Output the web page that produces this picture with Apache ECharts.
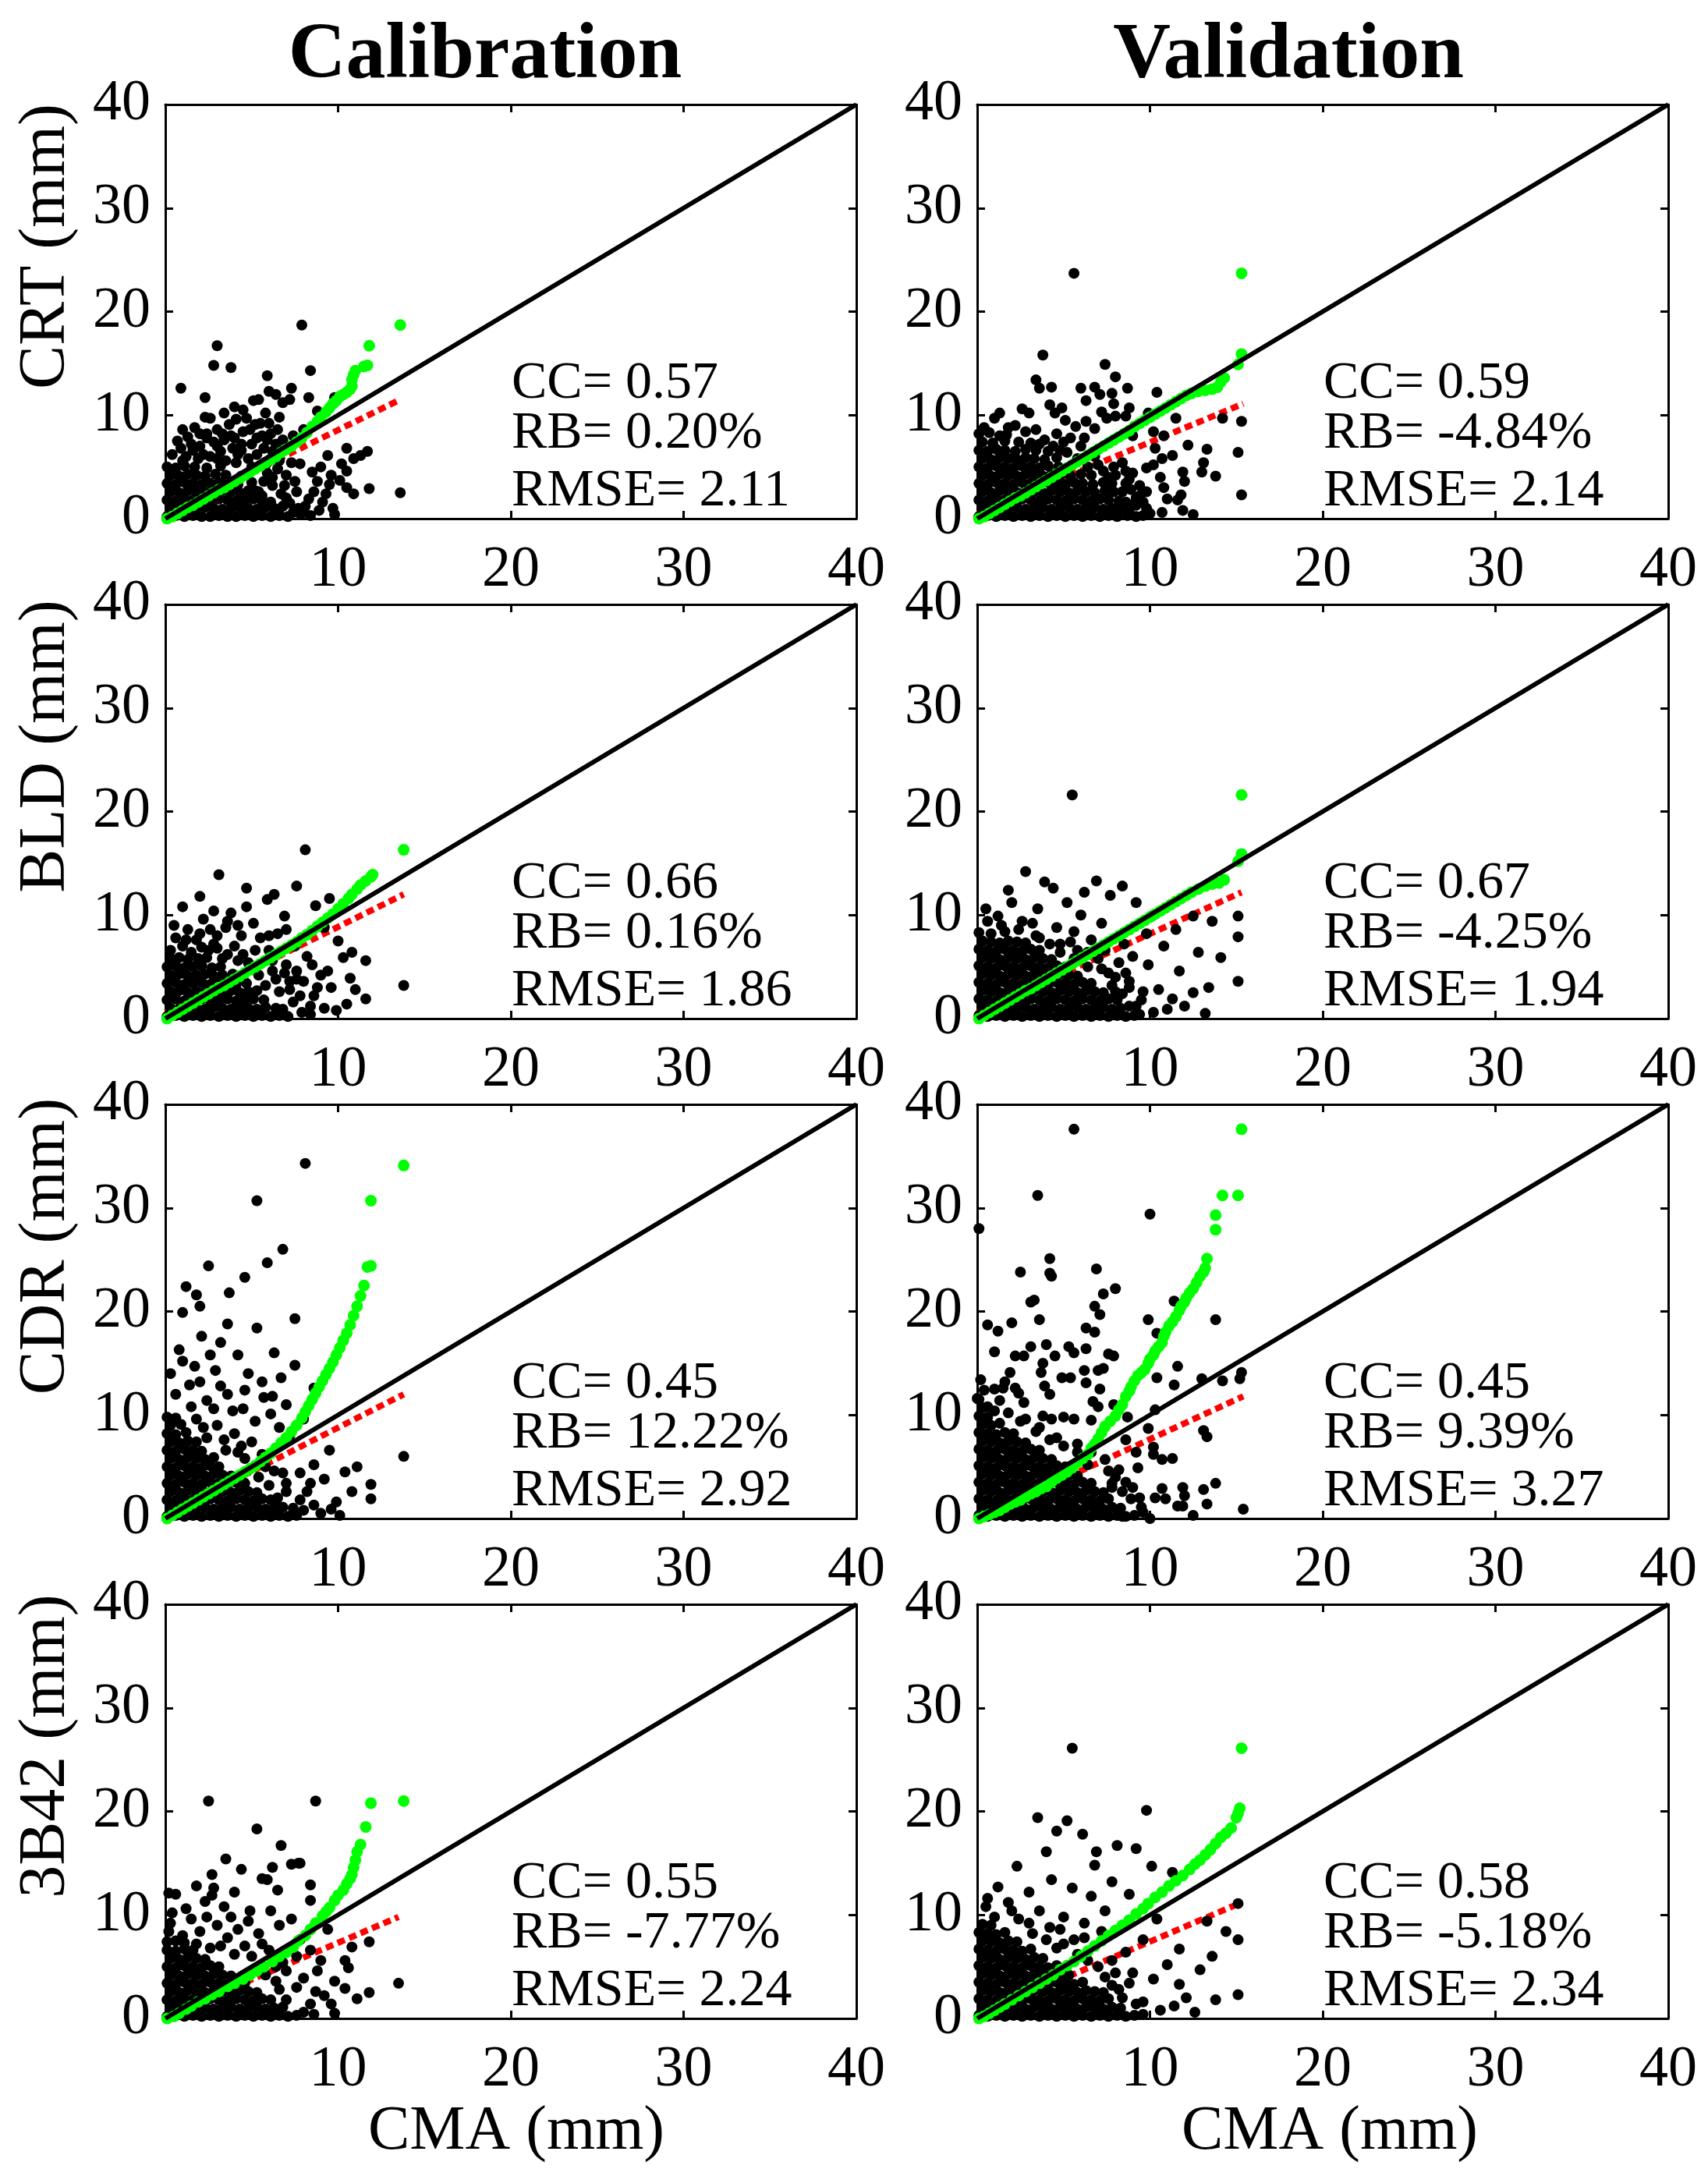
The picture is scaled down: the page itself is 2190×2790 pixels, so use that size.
<!DOCTYPE html>
<html>
<head>
<meta charset="utf-8">
<script src="https://cdn.jsdelivr.net/npm/echarts@6/dist/echarts.min.js"></script>
<style>
html,body{margin:0;padding:0;background:#fff;}
#chart{width:2190px;height:2790px;}
</style>
</head>
<body>
<div id="chart"></div>
<script>
// ---------- categories / labels ----------
const products = ['CRT', 'BLD', 'CDR', '3B42'];
const periods = ['Calibration', 'Validation'];
const xAxisName = 'CMA (mm)';
const axisTicks = [0, 10, 20, 30, 40];

// ---------- statistics ----------
const ccCal = ['0.57', '0.66', '0.45', '0.55'];
const ccVal = ['0.59', '0.67', '0.45', '0.58'];
const rbCal = ['0.20%', '0.16%', '12.22%', '-7.77%'];
const rbVal = ['-4.84%', '-4.25%', '9.39%', '-5.18%'];
const rmseCal = ['2.11', '1.86', '2.92', '2.24'];
const rmseVal = ['2.14', '1.94', '3.27', '2.34'];

// ---------- 1:1 line ----------
const oneToOne = [[0, 0], [40, 40]];

// ---------- regression (red) lines ----------
const redCRTcal = [[0, 0.4], [13.6, 11.5]];
const redCRTval = [[0, 0.5], [15.4, 11.1]];
const redBLDcal = [[0, 0.6], [13.8, 12.0]];
const redBLDval = [[0, 0.6], [15.3, 12.2]];
const redCDRcal = [[0, 0.3], [13.8, 12.0]];
const redCDRval = [[0, 0.0], [15.4, 11.8]];
const red3B42cal = [[0, 0.2], [13.5, 9.8]];
const red3B42val = [[0, 0.3], [15.3, 11.2]];

// ---------- Q-Q (green) points ----------
const greenCRTcal = [[0.1,0.0],[0.4,0.2],[0.7,0.5],[1.0,0.8],[1.3,1.1],[1.6,1.3],[1.9,1.6],[2.2,1.9],[2.5,2.2],[2.8,2.5],[3.1,2.8],[3.4,3.0],[3.7,3.3],[4.0,3.6],[4.3,3.9],[4.6,4.2],[4.9,4.5],[5.2,4.8],[5.5,5.1],[5.8,5.4],[6.1,5.7],[6.4,6.0],[6.7,6.4],[7.0,6.7],[7.3,7.0],[7.6,7.4],[7.9,7.8],[8.2,8.3],[8.5,8.9],[8.8,9.4],[9.0,9.8],[9.3,10.3],[9.5,10.7],[9.7,11.1],[9.9,11.4],[10.1,11.8],[10.3,12.0],[10.5,12.2],[10.7,12.5],[10.8,12.8],[10.8,13.4],[10.9,13.9],[11.0,14.3],[11.5,14.7],[11.7,14.8],[11.8,16.7],[13.6,18.7]];
const greenCRTval = [[0.1,0.0],[0.4,0.2],[0.7,0.5],[1.0,0.8],[1.3,1.1],[1.6,1.4],[1.9,1.7],[2.2,2.0],[2.5,2.2],[2.8,2.5],[3.1,2.8],[3.4,3.1],[3.7,3.4],[4.0,3.7],[4.3,4.0],[4.6,4.3],[4.9,4.6],[5.2,4.9],[5.5,5.2],[5.8,5.5],[6.1,5.8],[6.4,6.1],[6.7,6.4],[7.0,6.7],[7.3,7.0],[7.6,7.3],[7.9,7.6],[8.2,7.9],[8.5,8.2],[8.8,8.5],[9.1,8.9],[9.4,9.2],[9.7,9.5],[10.0,9.8],[10.3,10.1],[10.6,10.4],[10.9,10.7],[11.2,11.0],[11.5,11.3],[11.8,11.6],[12.1,11.9],[12.4,12.1],[12.8,12.3],[13.2,12.4],[13.6,12.5],[13.9,12.7],[14.1,13.2],[14.3,13.6],[15.1,14.9],[15.3,15.9],[15.3,23.7]];
const greenBLDcal = [[0.1,0.0],[0.4,0.3],[0.7,0.6],[1.0,0.9],[1.3,1.2],[1.6,1.5],[1.9,1.8],[2.2,2.1],[2.5,2.4],[2.8,2.7],[3.1,3.0],[3.4,3.2],[3.7,3.5],[4.0,3.8],[4.3,4.1],[4.6,4.4],[4.9,4.7],[5.2,5.0],[5.5,5.3],[5.8,5.6],[6.1,5.9],[6.4,6.2],[6.7,6.5],[7.0,6.8],[7.3,7.1],[7.6,7.4],[7.9,7.8],[8.2,8.1],[8.5,8.5],[8.8,8.9],[9.1,9.3],[9.4,9.7],[9.7,10.1],[10.0,10.6],[10.3,11.1],[10.6,11.6],[10.8,12.0],[11.1,12.5],[11.3,12.9],[11.6,13.3],[11.9,13.7],[12.0,13.9],[13.8,16.3]];
const greenBLDval = [[0.1,0.0],[0.4,0.3],[0.7,0.6],[1.0,0.9],[1.3,1.2],[1.6,1.5],[1.9,1.8],[2.2,2.1],[2.5,2.4],[2.8,2.7],[3.1,2.9],[3.4,3.2],[3.7,3.5],[4.0,3.8],[4.3,4.1],[4.6,4.4],[4.9,4.7],[5.2,5.0],[5.5,5.3],[5.8,5.6],[6.1,5.9],[6.4,6.2],[6.7,6.5],[7.0,6.8],[7.3,7.1],[7.6,7.4],[7.9,7.7],[8.2,8.0],[8.5,8.3],[8.8,8.6],[9.1,8.9],[9.4,9.2],[9.7,9.5],[10.0,9.8],[10.3,10.1],[10.6,10.4],[10.9,10.7],[11.2,11.0],[11.5,11.3],[11.8,11.6],[12.1,11.9],[12.4,12.2],[12.8,12.5],[13.2,12.8],[13.6,13.0],[14.0,13.1],[14.3,13.4],[15.1,15.2],[15.3,15.9],[15.3,21.6]];
const greenCDRcal = [[0.1,0.0],[0.4,0.3],[0.7,0.6],[1.0,0.9],[1.3,1.2],[1.6,1.5],[1.9,1.8],[2.2,2.1],[2.5,2.4],[2.8,2.7],[3.1,3.0],[3.4,3.3],[3.7,3.6],[4.0,3.9],[4.3,4.2],[4.6,4.5],[4.9,4.8],[5.2,5.1],[5.5,5.5],[5.8,5.9],[6.1,6.3],[6.4,6.8],[6.7,7.3],[7.0,7.8],[7.3,8.4],[7.6,9.0],[7.9,9.7],[8.1,10.3],[8.3,10.9],[8.5,11.5],[8.7,12.1],[8.9,12.7],[9.1,13.3],[9.3,13.9],[9.5,14.5],[9.7,15.1],[9.9,15.8],[10.1,16.5],[10.3,17.2],[10.5,17.9],[10.7,18.7],[10.9,19.6],[11.1,20.5],[11.3,21.5],[11.5,22.5],[11.7,24.3],[11.9,24.4],[11.9,30.7],[13.8,34.1]];
const greenCDRval = [[0.1,0.0],[0.4,0.2],[0.7,0.4],[1.0,0.6],[1.3,0.8],[1.6,1.1],[1.9,1.4],[2.2,1.6],[2.5,1.8],[2.8,2.1],[3.1,2.4],[3.4,2.6],[3.7,2.9],[4.0,3.1],[4.3,3.5],[4.6,3.9],[4.9,4.2],[5.2,4.5],[5.5,4.9],[5.8,5.4],[6.1,5.8],[6.4,6.2],[6.6,6.8],[6.8,7.2],[7.0,7.7],[7.2,8.3],[7.4,8.9],[7.7,9.4],[8.0,9.9],[8.2,10.5],[8.4,11.0],[8.6,11.8],[8.8,12.3],[8.9,12.7],[9.1,13.3],[9.3,13.8],[9.5,14.1],[9.7,14.4],[9.9,15.0],[10.0,15.4],[10.2,15.8],[10.3,16.2],[10.5,16.6],[10.7,17.0],[10.8,17.6],[10.9,18.0],[11.1,18.6],[11.3,19.0],[11.5,19.5],[11.7,20.1],[11.8,20.5],[12.0,20.9],[12.1,21.3],[12.3,21.8],[12.5,22.2],[12.7,22.8],[12.9,23.4],[13.1,23.8],[13.2,24.2],[13.3,25.1],[13.8,27.9],[13.8,29.3],[14.2,31.2],[15.1,31.2],[15.3,37.6]];
const green3B42cal = [[0.1,0.0],[0.5,0.2],[0.8,0.5],[1.2,0.9],[1.5,1.2],[1.9,1.6],[2.3,1.9],[2.7,2.3],[3.1,2.6],[3.6,3.1],[4.0,3.4],[4.5,3.8],[4.9,4.2],[5.3,4.6],[5.7,5.0],[6.2,5.5],[6.6,6.0],[7.0,6.4],[7.4,6.9],[7.7,7.5],[8.1,8.0],[8.4,8.6],[8.7,9.2],[9.1,9.9],[9.3,10.3],[9.5,10.7],[9.8,11.4],[10.0,11.9],[10.3,12.4],[10.5,13.0],[10.7,13.5],[10.8,13.9],[10.9,14.6],[11.0,15.3],[11.1,16.1],[11.3,16.8],[11.6,18.5],[11.9,20.8],[13.8,21.0]];
const green3B42val = [[0.1,0.0],[0.4,0.2],[0.7,0.5],[1.0,0.8],[1.3,1.1],[1.6,1.4],[2.0,1.8],[2.4,2.2],[2.8,2.6],[3.2,3.0],[3.6,3.4],[4.0,3.8],[4.4,4.2],[4.8,4.7],[5.2,5.1],[5.6,5.5],[6.0,6.0],[6.4,6.5],[6.8,7.0],[7.2,7.5],[7.6,8.0],[8.0,8.5],[8.4,9.0],[8.8,9.5],[9.2,10.1],[9.6,10.6],[9.9,11.1],[10.3,11.7],[10.7,12.2],[11.1,12.8],[11.5,13.3],[11.9,13.8],[12.3,14.4],[12.6,14.9],[12.9,15.3],[13.2,15.8],[13.5,16.3],[13.8,16.9],[14.1,17.5],[14.4,17.9],[14.7,18.4],[15.0,19.4],[15.1,19.8],[15.2,20.3],[15.3,26.1]];

// ---------- scatter (black) points: [CMA, product] ----------
const blackCRTcal = [
[0.1,0.2],[0.6,0.3],[1.1,0.2],[1.6,0.3],[2.1,0.2],[2.6,0.2],[3.1,0.3],[3.6,0.2],[4.1,0.2],[4.6,0.3],[5.1,0.2],[5.6,0.3],[6.1,0.2],[6.6,0.3],[7.1,0.2],
[0.3,1.0],[0.8,1.1],[1.3,0.9],[1.8,1.0],[2.3,1.1],[2.8,1.0],[3.3,0.9],[3.8,1.0],[4.3,1.1],[4.8,1.0],[5.3,0.9],[5.8,1.1],[6.3,1.0],
[0.1,1.8],[0.6,1.7],[1.1,1.9],[1.6,1.8],[2.1,1.7],[2.6,1.8],[3.1,1.9],[3.6,1.8],[4.1,1.7],[4.6,1.8],[5.1,1.9],[5.6,1.7],
[0.3,2.6],[0.8,2.5],[1.3,2.7],[1.8,2.6],[2.3,2.5],[2.8,2.6],[3.3,2.7],[3.8,2.6],[4.3,2.5],[4.8,2.7],[5.4,2.6],
[0.1,3.4],[0.6,3.3],[1.1,3.5],[1.6,3.4],[2.1,3.3],[2.6,3.4],[3.1,3.5],[3.6,3.4],[4.2,3.3],[5.0,3.5],
[0.3,4.2],[0.8,4.1],[1.3,4.3],[1.8,4.2],[2.3,4.1],[2.9,4.3],[3.5,4.2],[4.4,4.1],
[0.1,5.0],[0.6,4.9],[1.1,5.1],[1.7,5.0],[2.4,4.9],[3.2,5.1],
[0.7,7.5],[1.3,7.9],[1.7,8.8],[2.3,9.8],[2.6,9.7],[2.0,7.0],[2.8,7.4],[3.2,6.5],[3.7,9.1],[4.0,7.8],[4.5,8.4],[4.7,9.7],[4.2,6.2],[5.2,9.1],[5.5,9.2],[5.0,7.2],[5.7,6.8],[6.5,8.6],[6.1,8.2],[6.2,6.5],[6.8,7.6],[7.2,7.0],[8.0,8.6],[1.2,6.0],[1.9,5.8],[2.6,6.0],[3.5,5.6],[4.8,5.8],[5.8,5.2],[6.6,5.6],[7.0,4.2],[7.5,3.6],[6.7,2.4],[6.1,1.6],[6.6,0.4],[5.6,2.2],[5.2,2.7],[6.2,3.2],[7.2,1.5],[7.8,0.5],[7.6,2.6],[8.4,0.3],
[0.4,6.2],[0.9,6.8],[1.6,6.6],[2.4,8.2],[3.0,8.6],[3.4,7.6],[3.9,6.8],[4.4,7.2],[5.3,6.2],[5.6,8.0],[4.1,5.4],[3.0,5.8],[5.9,4.4],[6.5,4.8],[5.7,3.6],[6.9,3.2],[7.3,5.4],
[1.0,5.6],[1.5,7.2],[2.2,6.2],[2.4,7.8],[3.0,7.0],[3.3,8.2],[3.8,8.0],[4.1,9.6],[4.4,6.6],[4.9,8.6],[5.3,7.8],[5.9,7.6],[6.0,9.2],[6.4,7.2],[6.9,6.6],[7.4,8.0],[3.4,10.2],[4.0,10.8],[2.0,8.2],[1.0,8.6],[6.6,9.8],[5.0,5.0],[6.2,4.0],[6.8,1.2],[7.4,0.6],[7.0,2.0],[8.1,1.2],[8.6,2.6],[8.9,0.8],[9.3,2.4],
[7.9,18.7],[3.0,16.7],[2.8,14.8],[3.8,14.6],[5.9,13.8],[8.4,14.3],[0.9,12.6],[2.3,11.7],[6.0,12.3],[6.4,12.0],[7.3,12.6],[6.8,11.2],[7.2,11.5],[8.3,11.7],[9.8,11.7],[8.8,10.4],[5.1,11.4],[5.4,11.5],[4.5,10.5],[5.8,10.2],[9.4,6.1],[10.5,6.8],[11.7,6.5],[11.3,6.1],[10.9,5.8],[10.2,5.3],[9.0,5.0],[9.6,4.2],[10.5,4.6],[10.1,3.7],[9.5,3.3],[10.5,3.0],[11.8,2.9],[10.9,2.4],[13.6,2.5],[9.7,1.0],[9.8,0.4],[9.1,1.6],[8.3,1.9],[7.7,1.0],[8.0,0.6],[8.8,3.6],[8.5,4.5],[7.8,5.3]
];
const blackCRTval = [
[0.1,0.2],[0.6,0.3],[1.1,0.2],[1.6,0.3],[2.1,0.2],[2.6,0.3],[3.1,0.2],[3.6,0.3],[4.1,0.2],[4.6,0.3],[5.1,0.2],[5.6,0.3],[6.1,0.2],[6.6,0.3],[7.1,0.2],[7.6,0.3],[8.1,0.2],[8.7,0.3],[9.2,0.2],
[0.3,1.0],[0.8,1.1],[1.3,0.9],[1.8,1.0],[2.3,1.1],[2.8,0.9],[3.3,1.0],[3.8,1.1],[4.3,0.9],[4.8,1.0],[5.3,1.1],[5.8,0.9],[6.3,1.0],[6.8,1.1],[7.3,0.9],[7.8,1.0],[8.4,1.1],[9.0,1.3],
[0.1,1.8],[0.6,1.7],[1.1,1.9],[1.6,1.8],[2.1,1.7],[2.6,1.9],[3.1,1.8],[3.6,1.7],[4.1,1.9],[4.6,1.8],[5.1,1.7],[5.6,1.9],[6.1,1.8],[6.6,1.7],[7.1,1.9],[7.6,1.8],[8.2,1.7],
[0.3,2.6],[0.8,2.5],[1.3,2.7],[1.8,2.6],[2.3,2.5],[2.8,2.7],[3.3,2.6],[3.8,2.5],[4.3,2.7],[4.8,2.6],[5.3,2.5],[5.8,2.7],[6.3,2.6],[6.8,2.5],[7.4,2.7],[7.9,2.6],
[0.1,3.4],[0.6,3.3],[1.1,3.5],[1.6,3.4],[2.1,3.3],[2.6,3.5],[3.1,3.4],[3.6,3.3],[4.1,3.5],[4.6,3.4],[5.1,3.3],[5.6,3.5],[6.1,3.4],[6.7,3.3],[7.3,3.5],
[0.3,4.2],[0.8,4.1],[1.3,4.3],[1.8,4.2],[2.3,4.1],[2.8,4.3],[3.3,4.2],[3.8,4.1],[4.3,4.3],[4.8,4.2],[5.4,4.1],[6.0,4.3],[6.6,4.2],[7.3,4.6],
[0.1,5.0],[0.6,4.9],[1.1,5.1],[1.6,5.0],[2.1,4.9],[2.6,5.1],[3.1,5.0],[3.6,4.9],[4.1,5.1],[4.7,5.0],[5.3,4.9],
[0.3,5.8],[0.8,5.7],[1.3,5.9],[1.8,5.8],[2.3,5.7],[2.8,5.9],[3.3,5.8],[3.9,5.7],[4.6,5.9],
[0.1,6.6],[0.6,6.5],[1.1,6.7],[1.6,6.6],[2.2,6.5],[2.8,6.7],[3.4,6.6],[4.1,6.5],
[0.3,7.4],[0.9,7.3],[1.6,7.5],[2.4,7.4],[3.1,7.3],[3.9,7.6],
[0.1,8.2],[0.7,8.3],[1.7,8.1],[2.8,8.4],
[7.8,3.4],[8.4,2.6],[8.8,3.8],[9.2,2.0],[8.0,4.2],[7.6,4.0],[8.6,4.6],[9.4,3.2],[9.6,1.6],[8.9,2.8],[9.8,1.0],[8.2,0.8],[9.6,0.3],[7.0,5.2],[6.4,5.0],[5.8,5.8],[5.2,6.4],[4.4,7.0],[3.6,7.2],[4.6,8.2],[3.4,8.6],[2.2,9.0],[1.8,8.8],[5.4,7.8],[6.2,7.8],
[5.6,23.7],[3.8,15.8],[7.4,14.9],[8.0,13.7],[3.4,13.4],[3.6,12.6],[4.3,12.7],[6.0,12.6],[6.8,12.7],[7.1,12.0],[7.8,12.1],[8.7,12.6],[10.4,12.2],[6.3,11.4],[7.9,11.1],[4.2,11.0],[2.6,10.6],[4.9,10.7],[1.3,10.2],[1.0,9.7],[3.0,10.2],[4.5,10.2],[7.2,10.3],[8.0,9.9],[8.6,9.9],[8.8,10.7],[5.1,9.5],[6.3,9.4],[7.5,9.7],[9.9,10.2],[11.5,9.7],[14.2,9.7],[15.3,9.4],[0.4,8.8],[1.3,8.0],[5.7,8.9],[6.8,8.7],[9.0,8.0],[10.2,8.4],[10.8,8.0],[12.2,7.1],[13.3,6.7],[15.1,6.4],[10.3,6.8],[11.3,6.1],[10.7,5.8],[13.1,5.4],[13.0,4.5],[13.8,4.1],[11.9,4.5],[12.0,3.6],[15.3,2.3],[10.8,3.0],[10.6,4.0],[9.8,4.9],[10.2,5.2],[9.0,4.4],[9.8,2.6],[11.0,1.9],[11.6,1.8],[11.8,2.3],[11.9,0.8],[12.5,0.4],[10.7,0.6],[10.0,0.5],[9.2,1.3],[8.6,1.6],[7.6,3.1],[8.4,5.4],[7.8,0.5],[5.0,7.4],[6.0,7.0],[6.8,6.0],[4.8,6.6],[7.9,5.0],[8.6,3.4],[9.4,2.2],[8.8,0.6]
];
const blackBLDcal = [
[0.1,0.2],[0.6,0.3],[1.1,0.2],[1.6,0.3],[2.1,0.2],[2.6,0.3],[3.1,0.2],[3.6,0.3],[4.1,0.2],[4.6,0.3],[5.1,0.2],[5.6,0.3],[6.1,0.2],[6.6,0.3],[7.1,0.2],
[0.3,1.0],[0.8,0.9],[1.3,1.1],[1.8,1.0],[2.3,0.9],[2.8,1.1],[3.3,1.0],[3.8,0.9],[4.3,1.1],[4.8,1.0],[5.3,0.9],[5.8,1.1],[6.4,1.0],
[0.1,1.8],[0.6,1.9],[1.1,1.7],[1.6,1.8],[2.1,1.9],[2.6,1.7],[3.1,1.8],[3.6,1.9],[4.1,1.7],[4.6,1.8],[5.1,1.9],[5.7,1.8],
[0.3,2.6],[0.8,2.7],[1.3,2.5],[1.8,2.6],[2.3,2.7],[2.8,2.5],[3.3,2.6],[3.8,2.7],[4.3,2.5],[4.8,2.6],[5.3,2.7],
[0.1,3.4],[0.6,3.5],[1.1,3.3],[1.6,3.4],[2.1,3.5],[2.6,3.3],[3.1,3.4],[3.6,3.5],[4.1,3.3],[4.7,3.4],
[0.3,4.2],[0.8,4.3],[1.3,4.1],[1.8,4.2],[2.3,4.3],[2.8,4.1],[3.3,4.2],[3.9,4.3],
[0.1,5.0],[0.6,5.1],[1.1,4.9],[1.6,5.0],[2.1,5.1],[2.7,4.9],[3.2,5.0],
[0.3,5.8],[0.8,5.9],[1.3,5.7],[1.9,5.8],[2.4,5.9],
[1.0,7.0],[1.8,7.6],[2.5,6.6],[3.0,8.0],[3.5,8.8],[4.0,7.0],[4.5,6.2],[5.1,9.2],[5.5,7.8],[6.0,6.6],[6.5,8.2],[2.2,9.6],[1.3,8.6],[3.8,10.2],[4.7,10.8],[5.9,11.5],[6.9,9.9],[7.5,7.0],[8.2,6.0],[7.0,5.2],[6.2,4.6],[5.8,3.2],[6.6,2.6],[7.4,1.6],[7.9,0.6],[8.6,2.2],[8.0,3.6],[9.2,1.0],[9.0,4.2],[8.5,5.2],[9.6,3.0],[10.3,5.9],[11.6,5.6],[10.7,3.9],[13.8,3.2],[11.6,1.9],[9.9,0.8],[9.2,8.8],[10.0,7.5],[10.8,6.4],[3.1,13.9],[1.0,10.8],[4.7,12.6],[8.1,16.3],[2.0,11.8],[7.6,12.8],[6.3,12.0],[8.7,10.9],[9.5,11.6],[0.5,9.0],[0.3,6.6],[0.6,7.8],[2.8,7.2],[3.6,6.2],[4.8,5.4],[5.4,4.2],[6.4,3.8],[7.2,2.8],[6.8,0.9],[8.4,0.4],[10.5,1.4],[11.0,2.8],
[1.5,6.4],[2.1,6.9],[3.3,5.8],[4.2,5.6],[5.2,6.6],[4.4,8.0],[2.6,8.6],[5.8,5.6],[6.9,4.4],[7.6,3.8],
[7.2,3.6],[7.8,2.2],[8.4,1.2],[8.8,3.0],[9.4,4.6],[6.2,5.6],[7.6,4.6],[3.0,6.8],[1.2,7.6],[2.0,8.2],[3.6,9.4],[4.2,9.0],[2.8,10.4],[6.0,8.0],[7.0,8.6]
];
const blackBLDval = [
[0.1,0.3],[0.6,0.2],[1.1,0.3],[1.6,0.2],[2.1,0.3],[2.6,0.2],[3.1,0.3],[3.6,0.2],[4.1,0.3],[4.6,0.2],[5.1,0.3],[5.6,0.2],[6.1,0.3],[6.6,0.2],[7.1,0.3],[7.6,0.2],[8.1,0.3],[8.6,0.2],[9.1,0.3],
[0.3,1.1],[0.8,1.0],[1.3,1.1],[1.8,0.9],[2.3,1.0],[2.8,1.1],[3.3,0.9],[3.8,1.0],[4.3,1.1],[4.8,0.9],[5.3,1.0],[5.8,1.1],[6.3,0.9],[6.8,1.0],[7.3,1.1],[7.8,0.9],[8.3,1.0],[8.8,1.2],
[0.1,1.9],[0.6,1.8],[1.1,1.7],[1.6,1.9],[2.1,1.8],[2.6,1.7],[3.1,1.9],[3.6,1.8],[4.1,1.7],[4.6,1.9],[5.1,1.8],[5.6,1.7],[6.1,1.9],[6.6,1.8],[7.1,1.7],[7.6,1.9],[8.1,1.8],
[0.3,2.7],[0.8,2.6],[1.3,2.5],[1.8,2.7],[2.3,2.6],[2.8,2.5],[3.3,2.7],[3.8,2.6],[4.3,2.5],[4.8,2.7],[5.3,2.6],[5.8,2.5],[6.3,2.7],[6.8,2.6],[7.3,2.5],
[0.1,3.5],[0.6,3.4],[1.1,3.3],[1.6,3.5],[2.1,3.4],[2.6,3.3],[3.1,3.5],[3.6,3.4],[4.1,3.3],[4.6,3.5],[5.1,3.4],[5.6,3.3],[6.1,3.5],[6.6,3.4],
[0.3,4.3],[0.8,4.2],[1.3,4.1],[1.8,4.3],[2.3,4.2],[2.8,4.1],[3.3,4.3],[3.8,4.2],[4.3,4.1],[4.8,4.3],[5.3,4.2],[5.8,4.1],
[0.1,5.1],[0.6,5.0],[1.1,4.9],[1.6,5.1],[2.1,5.0],[2.6,4.9],[3.1,5.1],[3.6,5.0],[4.1,4.9],[4.6,5.1],[5.1,5.0],
[0.3,5.9],[0.8,5.8],[1.3,5.7],[1.8,5.9],[2.3,5.8],[2.8,5.7],[3.3,5.9],[3.8,5.8],[4.3,5.7],
[0.1,6.7],[0.6,6.6],[1.1,6.5],[1.6,6.7],[2.1,6.6],[2.6,6.5],[3.1,6.7],[3.6,6.6],
[0.3,7.5],[0.8,7.4],[1.3,7.3],[1.8,7.5],[2.3,7.4],[2.8,7.3],
[0.1,8.3],[0.8,8.2],[1.6,8.4],
[7.8,3.2],[8.4,2.4],[8.8,3.0],[9.2,1.2],[8.0,4.0],[8.6,4.4],[9.6,2.6],[7.2,4.8],[6.4,5.0],[5.6,5.8],[4.8,6.4],[4.2,7.2],[3.4,8.0],[2.6,9.4],[1.4,9.0],[0.6,9.4],[5.4,7.4],[6.4,6.4],[7.4,6.6],[9.0,6.0],
[5.5,21.6],[2.8,14.2],[4.4,12.6],[6.9,13.3],[7.7,11.9],[9.2,11.2],[10.1,9.9],[12.5,9.9],[15.1,9.9],[15.1,7.9],[15.1,3.6],[14.1,5.9],[11.7,4.6],[11.3,1.9],[12.5,2.5],[1.2,9.9],[2.0,11.2],[5.2,11.2],[8.5,7.2],[3.5,10.6],[6.0,10.0],[7.2,9.2],[9.8,8.2],[10.8,7.0],[11.5,8.6],[12.8,6.4],[13.4,3.0],[10.5,2.8],[9.9,5.2],[10.2,0.6],[11.0,0.9],[12.0,1.2],[13.2,0.5],[9.5,1.8],[8.8,3.6],[8.2,5.4],[4.6,8.8],[5.6,8.4],[6.6,7.6],[3.2,9.2],[0.5,10.6],[1.8,12.4],[3.9,13.2],[6.2,12.2],[8.4,12.8],[13.6,9.4],[4.8,7.2],[5.8,6.6],[7.0,5.8],[7.6,4.4],[8.0,2.6],[9.4,0.4],[2.4,8.6],[3.6,7.8]
];
const blackCDRcal = [
[0.1,0.2],[0.6,0.3],[1.1,0.2],[1.6,0.3],[2.1,0.2],[2.6,0.3],[3.1,0.2],[3.6,0.3],[4.1,0.2],[4.6,0.3],[5.1,0.2],[5.6,0.3],[6.1,0.2],[6.6,0.3],[7.1,0.2],[7.6,0.3],
[0.3,1.0],[0.8,1.1],[1.3,0.9],[1.8,1.0],[2.3,1.1],[2.8,0.9],[3.3,1.0],[3.8,1.1],[4.3,0.9],[4.8,1.0],[5.3,1.1],[5.8,0.9],[6.3,1.0],[6.8,1.1],
[0.1,1.8],[0.6,1.7],[1.1,1.9],[1.6,1.8],[2.1,1.7],[2.6,1.9],[3.1,1.8],[3.6,1.7],[4.1,1.9],[4.6,1.8],[5.1,1.7],[5.6,1.9],[6.1,1.8],
[0.3,2.6],[0.8,2.5],[1.3,2.7],[1.8,2.6],[2.3,2.5],[2.8,2.7],[3.3,2.6],[3.8,2.5],[4.3,2.7],[4.8,2.6],[5.3,2.5],
[0.1,3.4],[0.6,3.3],[1.1,3.5],[1.6,3.4],[2.1,3.3],[2.6,3.5],[3.1,3.4],[3.6,3.3],[4.1,3.5],[4.6,3.4],
[0.3,4.2],[0.8,4.1],[1.3,4.3],[1.8,4.2],[2.3,4.1],[2.8,4.3],[3.3,4.2],[3.8,4.1],
[0.1,5.0],[0.6,4.9],[1.1,5.1],[1.6,5.0],[2.1,4.9],[2.6,5.1],[3.1,5.0],
[0.3,5.8],[0.8,5.7],[1.3,5.9],[1.8,5.8],[2.3,5.7],[2.8,5.9],
[0.1,6.6],[0.6,6.5],[1.1,6.7],[1.6,6.6],[2.1,6.5],
[0.3,7.4],[0.8,7.3],[1.3,7.5],[1.8,7.4],
[0.1,8.2],[0.6,8.1],[1.2,8.3],
[0.3,9.0],[0.9,9.1],
[0.1,9.8],[0.6,9.7],
[6.4,1.2],[7.0,2.6],[7.8,1.8],[8.4,3.4],[5.4,4.0],[6.8,4.4],[3.4,7.6],[4.2,6.4],[2.2,8.8],[1.8,9.6],[2.8,10.6],[3.2,12.8],[4.6,12.4],[5.6,13.2],[6.2,11.8],[1.0,15.2],[2.6,15.8],[3.6,18.8],[1.8,21.6],
[8.1,34.3],[5.3,30.7],[2.5,24.4],[5.9,24.7],[3.7,21.8],[4.6,23.3],[7.5,19.3],[5.3,18.4],[1.0,19.9],[2.1,17.6],[3.2,17.0],[6.3,16.0],[4.2,15.8],[0.8,16.3],[1.7,14.7],[2.9,14.3],[4.8,14.0],[6.7,13.6],[7.5,14.8],[8.6,12.6],[0.3,14.0],[1.4,12.9],[3.6,12.0],[5.7,11.7],[7.0,11.0],[2.4,11.4],[4.5,10.6],[6.1,10.1],[8.0,9.6],[9.5,6.6],[11.9,3.3],[13.8,6.0],[11.9,1.9],[10.4,4.5],[10.8,2.6],[9.2,3.8],[8.6,1.3],[11.1,5.0],[9.9,1.6],[3.0,9.0],[4.0,8.2],[5.0,7.4],[2.4,7.8],[3.5,6.6],[4.6,5.8],[5.6,6.2],[6.3,4.6],[7.0,3.4],[6.5,2.0],[7.4,1.0],[8.2,2.6],[9.0,0.5],[10.1,0.3],[7.8,4.4],[8.6,5.2],[1.5,10.8],[0.6,12.0],[2.0,13.2],[3.9,10.4],[6.6,8.8],[5.2,9.4],[9.6,0.9],[1.2,22.4],[6.8,26.0],[2.0,20.5],[7.2,8.0],[5.8,5.0],[4.4,7.0],[6.0,3.2],[8.0,0.8]
];
const blackCDRval = [
[0.1,0.3],[0.6,0.2],[1.1,0.3],[1.6,0.2],[2.1,0.3],[2.6,0.2],[3.1,0.3],[3.6,0.2],[4.1,0.3],[4.6,0.2],[5.1,0.3],[5.6,0.2],[6.1,0.3],[6.6,0.2],[7.1,0.3],[7.6,0.2],[8.1,0.3],[8.6,0.2],[9.1,0.3],
[0.3,1.1],[0.8,1.0],[1.3,0.9],[1.8,1.1],[2.3,1.0],[2.8,0.9],[3.3,1.1],[3.8,1.0],[4.3,0.9],[4.8,1.1],[5.3,1.0],[5.8,0.9],[6.3,1.1],[6.8,1.0],[7.3,0.9],[7.8,1.1],[8.3,1.0],
[0.1,1.9],[0.6,1.8],[1.1,1.7],[1.6,1.9],[2.1,1.8],[2.6,1.7],[3.1,1.9],[3.6,1.8],[4.1,1.7],[4.6,1.9],[5.1,1.8],[5.6,1.7],[6.1,1.9],[6.6,1.8],[7.1,1.7],[7.6,1.9],
[0.3,2.7],[0.8,2.6],[1.3,2.5],[1.8,2.7],[2.3,2.6],[2.8,2.5],[3.3,2.7],[3.8,2.6],[4.3,2.5],[4.8,2.7],[5.3,2.6],[5.8,2.5],[6.3,2.7],[6.8,2.6],[7.3,2.5],
[0.1,3.5],[0.6,3.4],[1.1,3.3],[1.6,3.5],[2.1,3.4],[2.6,3.3],[3.1,3.5],[3.6,3.4],[4.1,3.3],[4.6,3.5],[5.1,3.4],[5.6,3.3],[6.1,3.5],[6.6,3.4],
[0.3,4.3],[0.8,4.2],[1.3,4.1],[1.8,4.3],[2.3,4.2],[2.8,4.1],[3.3,4.3],[3.8,4.2],[4.3,4.1],[4.8,4.3],[5.3,4.2],[5.8,4.1],
[0.1,5.1],[0.6,5.0],[1.1,4.9],[1.6,5.1],[2.1,5.0],[2.6,4.9],[3.1,5.1],[3.6,5.0],[4.1,4.9],[4.6,5.1],[5.1,5.0],
[0.3,5.9],[0.8,5.8],[1.3,5.7],[1.8,5.9],[2.3,5.8],[2.8,5.7],[3.3,5.9],[3.8,5.8],[4.3,5.7],
[0.1,6.7],[0.6,6.6],[1.1,6.5],[1.6,6.7],[2.1,6.6],[2.6,6.5],[3.1,6.7],[3.6,6.6],
[0.3,7.5],[0.8,7.4],[1.3,7.3],[1.8,7.5],[2.3,7.4],[2.8,7.3],
[0.1,8.3],[0.6,8.2],[1.1,8.1],[1.6,8.3],[2.1,8.2],
[0.3,9.1],[0.8,9.0],[1.3,9.2],
[0.1,9.9],[0.6,9.8],
[0.3,10.7],[0.1,11.5],
[7.8,3.4],[8.4,2.6],[8.0,4.0],[7.6,4.6],[9.0,3.0],[9.4,2.0],[6.4,5.2],[5.8,6.4],[5.0,7.0],[4.2,7.6],[3.6,8.8],[2.8,9.6],[1.8,10.2],[1.0,10.4],[0.4,12.4],[0.2,13.4],[1.6,13.2],
[5.6,37.6],[3.5,31.2],[0.1,28.0],[10.0,29.4],[4.2,25.1],[6.9,24.1],[2.5,23.8],[4.2,23.7],[4.3,23.4],[8.0,22.2],[7.3,21.7],[3.1,20.9],[3.3,21.1],[6.8,20.5],[11.4,21.0],[7.1,19.7],[3.6,19.2],[9.9,19.2],[13.8,19.2],[0.6,18.7],[1.2,18.1],[2.0,18.9],[6.3,18.4],[6.8,18.0],[10.4,17.9],[4.0,16.8],[3.1,16.6],[5.3,16.6],[5.6,16.0],[6.3,16.4],[1.0,16.1],[2.2,15.7],[2.7,15.7],[4.5,15.7],[7.6,15.9],[7.9,15.7],[3.8,15.0],[3.7,14.1],[6.2,14.3],[7.0,14.3],[7.3,14.5],[11.6,14.7],[1.9,14.1],[4.9,13.6],[5.4,13.6],[10.4,13.6],[13.0,13.5],[14.2,13.3],[15.2,13.5],[15.3,14.1],[6.3,13.1],[3.9,12.8],[11.4,12.9],[1.0,12.5],[1.5,12.6],[2.2,12.6],[7.1,12.5],[4.2,12.0],[2.4,12.1],[1.3,11.4],[0.0,11.6],[2.7,11.2],[6.7,11.3],[7.0,10.8],[0.6,10.8],[7.9,11.0],[10.3,10.5],[8.7,9.8],[5.0,9.8],[5.6,9.6],[6.6,9.5],[3.8,9.9],[4.3,9.6],[2.5,9.4],[9.9,8.7],[13.1,8.5],[13.3,7.9],[8.6,7.6],[9.2,6.4],[10.2,6.9],[10.2,6.2],[10.7,5.7],[11.3,5.8],[9.3,4.9],[13.8,3.4],[13.1,2.8],[11.9,3.0],[12.0,2.2],[10.7,2.9],[10.3,2.0],[10.9,1.9],[13.3,1.4],[11.6,1.2],[11.9,1.2],[15.4,0.9],[12.5,0.3],[10.0,0.0],[8.4,0.2],[9.5,1.1],[8.9,1.9],[8.6,3.5],[8.2,4.7],[7.4,5.7],[4.6,7.8],[5.8,7.2],[3.4,8.4],[6.6,6.4],[7.8,3.0],[9.6,0.6]
];
const black3B42cal = [
[0.1,0.2],[0.6,0.3],[1.1,0.2],[1.6,0.3],[2.1,0.2],[2.6,0.3],[3.1,0.2],[3.6,0.3],[4.1,0.2],[4.6,0.3],[5.1,0.2],[5.6,0.3],[6.1,0.2],[6.6,0.3],[7.1,0.2],[7.6,0.3],
[0.3,1.0],[0.8,1.1],[1.3,0.9],[1.8,1.0],[2.3,1.1],[2.8,0.9],[3.3,1.0],[3.8,1.1],[4.3,0.9],[4.8,1.0],[5.3,1.1],[5.8,0.9],[6.3,1.0],[6.8,1.1],
[0.1,1.8],[0.6,1.7],[1.1,1.9],[1.6,1.8],[2.1,1.7],[2.6,1.9],[3.1,1.8],[3.6,1.7],[4.1,1.9],[4.6,1.8],[5.1,1.7],[5.6,1.9],[6.1,1.8],
[0.3,2.6],[0.8,2.5],[1.3,2.7],[1.8,2.6],[2.3,2.5],[2.8,2.7],[3.3,2.6],[3.8,2.5],[4.3,2.7],[4.8,2.6],[5.3,2.5],
[0.1,3.4],[0.6,3.3],[1.1,3.5],[1.6,3.4],[2.1,3.3],[2.6,3.5],[3.1,3.4],[3.6,3.3],[4.1,3.5],[4.6,3.4],
[0.3,4.2],[0.8,4.1],[1.3,4.3],[1.8,4.2],[2.3,4.1],[2.8,4.3],[3.3,4.2],[3.8,4.1],
[0.1,5.0],[0.6,4.9],[1.1,5.1],[1.6,5.0],[2.1,4.9],[2.6,5.1],[3.1,5.0],
[0.3,5.8],[0.8,5.7],[1.3,5.9],[1.8,5.8],[2.3,5.7],
[0.1,6.6],[0.6,6.5],[1.1,6.7],[1.6,6.6],
[0.1,7.4],[0.6,7.5],[1.1,7.3],
[1.8,7.2],[2.4,9.8],[3.2,7.0],[4.0,6.2],[4.8,9.4],[5.6,7.2],[6.4,5.0],[7.6,6.0],[7.8,7.6],[8.8,4.6],[9.2,2.2],[8.6,0.4],[3.8,9.8],[2.8,12.6],[1.8,12.8],[4.4,14.4],[6.2,14.6],
[0.2,12.1],[2.7,13.9],[5.6,13.5],[6.5,12.4],[8.4,12.9],[2.3,11.3],[2.7,11.9],[4.9,10.4],[6.1,10.4],[7.3,9.6],[8.4,11.4],[9.4,8.6],[11.8,7.4],[10.8,6.9],[10.4,5.6],[10.6,4.9],[11.8,2.5],[13.5,3.4],[11.1,1.9],[10.4,2.9],[9.6,1.4],[9.8,0.5],[8.7,2.6],[9.8,3.6],[8.0,3.9],[7.3,14.9],[7.8,15.0],[2.5,21.0],[5.3,18.3],[8.7,21.0],[7.7,15.0],[6.7,16.7],[3.5,15.4],[5.9,13.4],[0.6,12.0],[1.5,9.6],[2.0,8.4],[3.0,9.0],[3.6,7.8],[4.2,8.6],[4.6,7.0],[5.4,8.2],[5.0,6.0],[6.0,6.6],[6.8,5.4],[1.2,10.6],[0.3,9.2],[0.4,10.2],[3.4,10.8],[4.0,12.2],[6.6,9.0],[7.0,4.6],[7.6,3.0],[8.4,1.4],[7.0,1.8],[6.6,2.8],[9.0,5.6],[8.4,6.6],[1.0,8.0],[2.6,6.8],[0.2,8.4],[5.8,4.2],[6.4,3.6],[8.0,0.6]
];
const black3B42val = [
[0.1,0.3],[0.6,0.2],[1.1,0.3],[1.6,0.2],[2.1,0.3],[2.6,0.2],[3.1,0.3],[3.6,0.2],[4.1,0.3],[4.6,0.2],[5.1,0.3],[5.6,0.2],[6.1,0.3],[6.6,0.2],[7.1,0.3],[7.6,0.2],[8.1,0.3],[8.6,0.2],[9.1,0.3],
[0.3,1.1],[0.8,1.0],[1.3,0.9],[1.8,1.1],[2.3,1.0],[2.8,0.9],[3.3,1.1],[3.8,1.0],[4.3,0.9],[4.8,1.1],[5.3,1.0],[5.8,0.9],[6.3,1.1],[6.8,1.0],[7.3,0.9],[7.8,1.1],[8.3,1.0],
[0.1,1.9],[0.6,1.8],[1.1,1.7],[1.6,1.9],[2.1,1.8],[2.6,1.7],[3.1,1.9],[3.6,1.8],[4.1,1.7],[4.6,1.9],[5.1,1.8],[5.6,1.7],[6.1,1.9],[6.6,1.8],[7.1,1.7],[7.6,1.9],
[0.3,2.7],[0.8,2.6],[1.3,2.5],[1.8,2.7],[2.3,2.6],[2.8,2.5],[3.3,2.7],[3.8,2.6],[4.3,2.5],[4.8,2.7],[5.3,2.6],[5.8,2.5],[6.3,2.7],[6.8,2.6],[7.3,2.5],
[0.1,3.5],[0.6,3.4],[1.1,3.3],[1.6,3.5],[2.1,3.4],[2.6,3.3],[3.1,3.5],[3.6,3.4],[4.1,3.3],[4.6,3.5],[5.1,3.4],[5.6,3.3],[6.1,3.5],
[0.3,4.3],[0.8,4.2],[1.3,4.1],[1.8,4.3],[2.3,4.2],[2.8,4.1],[3.3,4.3],[3.8,4.2],[4.3,4.1],[4.8,4.3],[5.3,4.2],
[0.1,5.1],[0.6,5.0],[1.1,4.9],[1.6,5.1],[2.1,5.0],[2.6,4.9],[3.1,5.1],[3.6,5.0],[4.1,4.9],[4.6,5.1],
[0.3,5.9],[0.8,5.8],[1.3,5.7],[1.8,5.9],[2.3,5.8],[2.8,5.7],[3.3,5.9],[3.8,5.8],
[0.1,6.7],[0.6,6.6],[1.1,6.5],[1.6,6.7],[2.1,6.6],[2.6,6.5],[3.1,6.7],
[0.3,7.5],[0.8,7.4],[1.3,7.3],[1.8,7.5],[2.3,7.4],
[0.1,8.3],[0.6,8.2],[1.1,8.1],[1.6,8.3],
[0.3,9.1],[0.8,9.0],
[7.8,3.2],[8.4,2.0],[8.8,3.4],[9.2,1.4],[8.0,4.4],[7.0,5.0],[6.4,5.6],[5.8,6.2],[5.0,7.2],[4.0,7.6],[3.0,9.2],[2.0,10.4],[0.6,11.6],[4.8,8.6],[6.2,7.8],[7.2,8.4],
[5.5,26.1],[9.8,20.1],[3.5,19.4],[5.2,19.1],[4.6,18.1],[6.1,17.8],[6.9,16.1],[4.0,16.1],[8.1,16.7],[10.1,14.7],[11.3,14.1],[2.3,14.7],[1.2,12.7],[15.1,11.1],[15.1,7.6],[13.3,9.4],[11.7,6.7],[12.9,4.7],[15.1,2.3],[11.7,3.3],[12.1,2.0],[0.5,10.8],[1.8,11.2],[3.0,12.2],[4.3,13.4],[5.5,12.6],[6.6,11.8],[7.8,13.2],[8.8,12.0],[3.6,10.4],[5.0,9.8],[6.2,9.2],[7.4,10.4],[8.4,8.8],[9.6,7.6],[10.4,9.6],[11.0,5.2],[10.2,3.8],[9.6,1.6],[10.6,0.8],[11.4,1.2],[12.6,0.6],[13.8,1.8],[9.0,4.4],[8.6,6.4],[7.8,5.6],[2.4,9.6],[1.0,9.8],[4.2,8.8],[13.6,6.0],[14.4,8.4],[6.8,14.8],[9.2,16.4],[5.6,7.6],[6.8,7.0],[7.4,4.0],[8.2,2.8],[9.6,0.4],[4.6,6.8],[3.2,8.2]
];

// ---------- panel list (row-major: product x period) ----------
const blackSets = [blackCRTcal, blackCRTval, blackBLDcal, blackBLDval, blackCDRcal, blackCDRval, black3B42cal, black3B42val];
const greenSets = [greenCRTcal, greenCRTval, greenBLDcal, greenBLDval, greenCDRcal, greenCDRval, green3B42cal, green3B42val];
const redSets = [redCRTcal, redCRTval, redBLDcal, redBLDval, redCDRcal, redCDRval, red3B42cal, red3B42val];
const ccSets = [ccCal, ccVal], rbSets = [rbCal, rbVal], rmseSets = [rmseCal, rmseVal];

// ---------- layout ----------
const FONT = '"Liberation Serif", "Times New Roman", serif';
const GRID_LEFT = [212, 1253];
const GRID_W = 886, GRID_H = 531;
const TOP0 = 134, ROW_STEP = 641;

const grids = [], xAxes = [], yAxes = [], series = [], graphics = [];

for (let r = 0; r < products.length; r++) {
  for (let c = 0; c < periods.length; c++) {
    const i = r * 2 + c;
    const left = GRID_LEFT[c], top = TOP0 + r * ROW_STEP;
    grids.push({left: left, top: top, width: GRID_W, height: GRID_H, containLabel: false});
    const axisLine = {show: true, onZero: false, lineStyle: {color: '#000', width: 3}};
    const axisTick = {show: true, inside: true, length: 10, lineStyle: {color: '#000', width: 3}};
    xAxes.push({
      type: 'value', gridIndex: i, position: 'bottom', min: axisTicks[0], max: axisTicks[axisTicks.length - 1], interval: 10,
      axisLine: axisLine, axisTick: axisTick, splitLine: {show: false},
      axisLabel: {show: true, margin: 30, color: '#000', fontFamily: FONT, fontSize: 74,
        formatter: function (v) { return v === 0 ? '' : String(v); }}
    });
    xAxes.push({
      type: 'value', gridIndex: i, position: 'top', min: 0, max: 40, interval: 10,
      axisLine: axisLine, axisTick: axisTick, splitLine: {show: false}, axisLabel: {show: false}
    });
    yAxes.push({
      type: 'value', gridIndex: i, position: 'left', min: 0, max: 40, interval: 10,
      axisLine: axisLine, axisTick: axisTick, splitLine: {show: false},
      axisLabel: {show: true, margin: 19, color: '#000', fontFamily: FONT, fontSize: 74, padding: [12, 0, 0, 0]}
    });
    yAxes.push({
      type: 'value', gridIndex: i, position: 'right', min: 0, max: 40, interval: 10,
      axisLine: axisLine, axisTick: axisTick, splitLine: {show: false}, axisLabel: {show: false}
    });
    const xi = i * 2, yi = i * 2;
    series.push({
      type: 'line', xAxisIndex: xi, yAxisIndex: yi, data: redSets[i], symbol: 'none', z: 2,
      lineStyle: {color: '#ff0000', width: 8, type: [10, 6]}, silent: true
    });
    series.push({
      type: 'scatter', xAxisIndex: xi, yAxisIndex: yi, data: blackSets[i], symbol: 'circle', symbolSize: 14, z: 3,
      itemStyle: {color: '#000000', opacity: 1}, silent: true
    });
    series.push({
      type: 'scatter', xAxisIndex: xi, yAxisIndex: yi, data: greenSets[i], symbol: 'circle', symbolSize: 15, z: 4,
      itemStyle: {color: '#00ff00', opacity: 1}, silent: true
    });
    series.push({
      type: 'line', xAxisIndex: xi, yAxisIndex: yi, data: oneToOne, symbol: 'none', z: 5,
      lineStyle: {color: '#000000', width: 6}, silent: true
    });
    // statistics text
    const stats = ['CC= ' + ccSets[c][r], 'RB= ' + rbSets[c][r], 'RMSE= ' + rmseSets[c][r]];
    const offs = [358, 422, 496];
    for (let k = 0; k < 3; k++) {
      graphics.push({
        type: 'text', x: left + 444, y: top + offs[k], z: 10,
        style: {text: stats[k], font: '68px ' + FONT, fill: '#000', textAlign: 'left', textVerticalAlign: 'middle'}
      });
    }
  }
  // y-axis name for the row
  graphics.push({
    type: 'text', x: 60, y: TOP0 + r * ROW_STEP + 182, rotation: Math.PI / 2, z: 10,
    style: {text: products[r] + ' (mm)', font: '84px ' + FONT, fill: '#000', textAlign: 'center', textVerticalAlign: 'middle'}
  });
}
// column titles and x-axis names
const titleX = [622, 1652];
const xNameX = [662, 1705];
for (let c = 0; c < periods.length; c++) {
  graphics.push({
    type: 'text', x: titleX[c], y: 73, z: 10,
    style: {text: periods[c], font: 'bold 102px ' + FONT, fill: '#000', textAlign: 'center', textVerticalAlign: 'middle'}
  });
  graphics.push({
    type: 'text', x: xNameX[c], y: 2734, z: 10,
    style: {text: xAxisName, font: '80px ' + FONT, fill: '#000', textAlign: 'center', textVerticalAlign: 'middle'}
  });
}

const chart = echarts.init(document.getElementById('chart'), null, {renderer: 'canvas', width: 2190, height: 2790});
chart.setOption({
  animation: false,
  backgroundColor: '#ffffff',
  grid: grids,
  xAxis: xAxes,
  yAxis: yAxes,
  series: series,
  graphic: graphics
});
</script>
</body>
</html>
